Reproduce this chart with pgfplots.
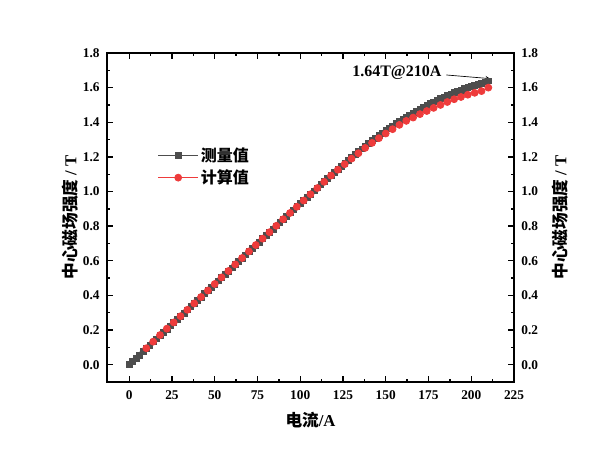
\documentclass[border=0pt]{standalone}
\usepackage{fontspec}
\setmainfont{Liberation Serif}
\newfontfamily\cjk{Noto Sans CJK SC}
\usepackage{pgfplots}
\pgfplotsset{compat=1.18}
\definecolor{mgray}{HTML}{4D4D4D}
\definecolor{cred}{HTML}{EE3B3B}
\newcommand{\tfont}{\fontsize{10}{11}\selectfont\bfseries}
\newcommand{\lfont}{\fontsize{12.5}{14}\selectfont\bfseries}
\begin{document}
\begin{tikzpicture}
\begin{axis}[
  width=305.25pt, height=246.75pt, scale only axis,
  xmin=-13, xmax=225, ymin=-0.1, ymax=1.8,
  xtick={0,25,...,225}, ytick={0,0.2,0.4,0.6,0.8,1.0,1.2,1.4,1.6,1.8},
  minor x tick num=1, minor y tick num=1,
  tick align=inside,
  major tick length=4.5pt, minor tick length=2.5pt,
  axis line style={line width=1.1pt},
  every tick/.style={line width=1pt, black},
  xticklabel={\tfont\pgfmathprintnumber[assume math mode=true]{\tick}},
  yticklabel={\tfont\pgfmathprintnumber[assume math mode=true, fixed, fixed zerofill, precision=1]{\tick}},
  yticklabel style={xshift=-2pt},
  xticklabel style={yshift=-3pt},
  xlabel={\lfont{\cjk 电流}/A},
  ylabel={\lfont{\cjk 中心磁场强度} / T},
  every axis y label/.style={at={(axis description cs:-0.091,0.5)}, rotate=90, anchor=center},
  every axis x label/.style={at={(axis description cs:0.5,-0.1155)}, anchor=center},
  legend style={at={(0.115,0.73)}, anchor=north west, draw=none, fill=none,
    font=\cjk\bfseries\fontsize{12}{14}\selectfont, row sep=1pt},
  legend cell align=left,
  legend image code/.code={\draw[mark repeat=2,mark phase=2,#1, line width=0.6pt] plot coordinates {(0cm,0cm) (0.52cm,0cm) (1.04cm,0cm)};},
  clip=false,
]
\addplot[mgray, line width=3.4pt, mark=square*, mark size=2.2pt, mark options={fill=mgray, draw=mgray, line width=0.4pt}] coordinates {
(0,0.000)(2,0.019)(4,0.038)(6,0.056)(8,0.075)(10,0.094)
(12,0.113)(14,0.132)(16,0.150)(18,0.169)(20,0.188)
(22,0.206)(24,0.225)(26,0.243)(28,0.262)(30,0.280)
(32,0.298)(34,0.317)(36,0.335)(38,0.354)(40,0.372)
(42,0.391)(44,0.410)(46,0.428)(48,0.447)(50,0.466)
(52,0.485)(54,0.504)(56,0.522)(58,0.541)(60,0.560)
(62,0.579)(64,0.598)(66,0.616)(68,0.635)(70,0.654)
(72,0.672)(74,0.691)(76,0.709)(78,0.728)(80,0.746)
(82,0.765)(84,0.784)(86,0.802)(88,0.821)(90,0.840)
(92,0.858)(94,0.877)(96,0.895)(98,0.914)(100,0.932)
(102,0.950)(104,0.968)(106,0.986)(108,1.004)(110,1.022)
(112,1.040)(114,1.058)(116,1.076)(118,1.094)(120,1.112)
(122,1.129)(124,1.146)(126,1.164)(128,1.181)(130,1.198)
(132,1.214)(134,1.231)(136,1.247)(138,1.264)(140,1.280)
(142,1.294)(144,1.309)(146,1.323)(148,1.338)(150,1.352)
(152,1.366)(154,1.379)(156,1.393)(158,1.406)(160,1.420)
(162,1.432)(164,1.443)(166,1.455)(168,1.466)(170,1.478)
(172,1.488)(174,1.498)(176,1.508)(178,1.518)(180,1.528)
(182,1.537)(184,1.546)(186,1.554)(188,1.563)(190,1.572)
(192,1.579)(194,1.586)(196,1.594)(198,1.601)(200,1.608)
(202,1.614)(204,1.621)(206,1.627)(208,1.634)(210,1.640)
};
\addlegendentry{测量值}
\addplot[cred, line width=0.6pt, mark=*, mark size=2.6pt, mark options={fill=cred, draw=cred}] coordinates {
(10,0.095)(14,0.133)(18,0.171)(22,0.208)(26,0.244)(30,0.280)
(34,0.317)(38,0.354)(42,0.391)(46,0.428)(50,0.466)(54,0.504)
(58,0.541)(62,0.579)(66,0.616)(70,0.654)(74,0.691)(78,0.728)
(82,0.765)(86,0.802)(90,0.840)(94,0.876)(98,0.912)(102,0.948)
(106,0.984)(110,1.020)(114,1.056)(118,1.092)(122,1.126)(126,1.158)
(130,1.190)(134,1.221)(138,1.252)(142,1.281)(146,1.308)(150,1.335)
(154,1.360)(158,1.385)(162,1.408)(166,1.427)(170,1.447)(174,1.465)
(178,1.483)(182,1.500)(186,1.517)(190,1.533)(194,1.546)(198,1.559)
(202,1.570)(206,1.580)(210,1.600)
};
\addlegendentry{计算值}
\draw[-stealth, line width=0.5pt] (axis cs:185.5,1.673) -- (axis cs:211,1.652);
\node[anchor=east, font=\fontsize{12}{13}\selectfont\bfseries, inner sep=1pt] at (axis cs:183.5,1.686) {1.64T@210A};
\end{axis}
\begin{axis}[
  width=305.25pt, height=246.75pt, scale only axis,
  xmin=-13, xmax=225, ymin=-0.1, ymax=1.8,
  axis x line=none, axis y line*=right,
  axis line style={draw=none},
  ytick={0,0.2,0.4,0.6,0.8,1.0,1.2,1.4,1.6,1.8},
  major tick length=0pt,
  ytick style={draw=none},
  yticklabel={\tfont\pgfmathprintnumber[assume math mode=true, fixed, fixed zerofill, precision=1]{\tick}},
  yticklabel style={xshift=2pt},
  ylabel={\lfont{\cjk 中心磁场强度} / T},
  every axis y label/.style={at={(axis description cs:1.113,0.5)}, rotate=90, anchor=center},
]
\addplot[draw=none] coordinates {(0,0)};
\end{axis}
\pgfresetboundingbox
\path (-80.25pt,-58.5pt) rectangle (369.75pt,286.5pt);
\end{tikzpicture}
\end{document}
